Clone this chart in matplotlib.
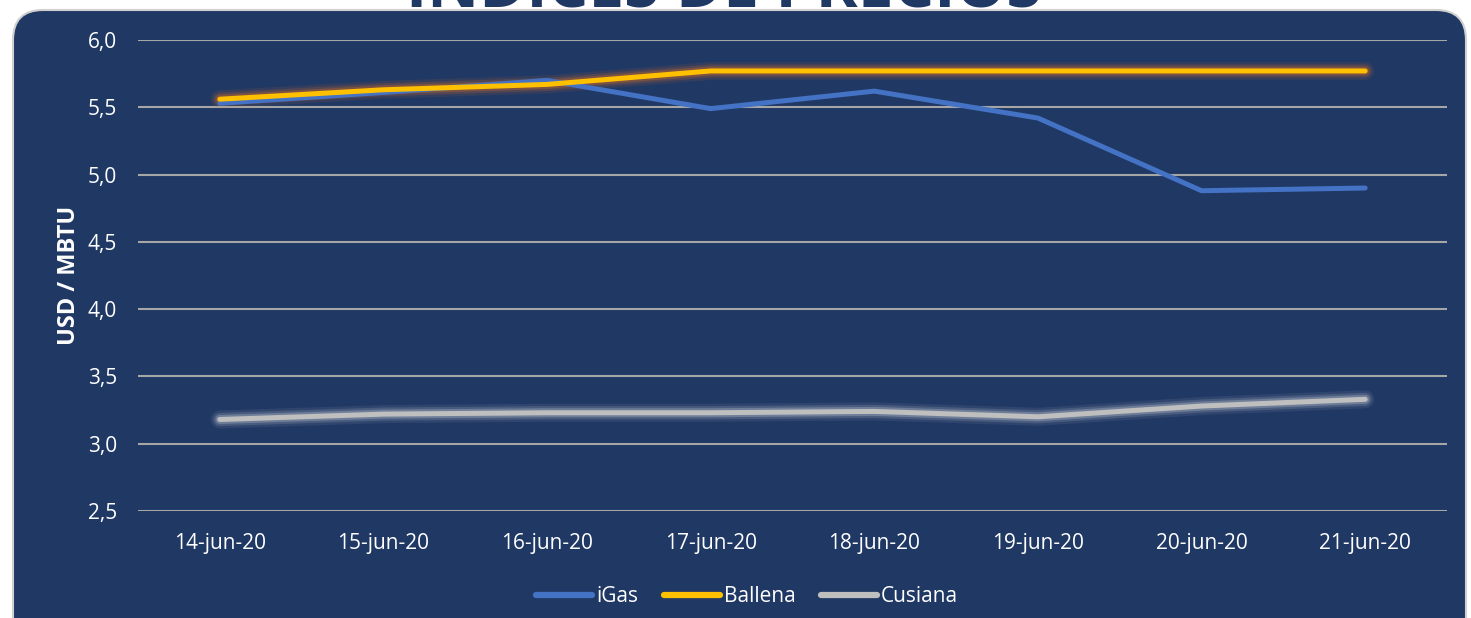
import matplotlib.pyplot as plt
from matplotlib.patches import FancyBboxPatch

# Data
fechas = ['14-jun-20', '15-jun-20', '16-jun-20', '17-jun-20',
          '18-jun-20', '19-jun-20', '20-jun-20', '21-jun-20']
igas = [5.53, 5.61, 5.70, 5.49, 5.62, 5.42, 4.88, 4.90]
ballena = [5.56, 5.63, 5.67, 5.77, 5.77, 5.77, 5.77, 5.77]
cusiana = [3.18, 3.22, 3.23, 3.23, 3.24, 3.20, 3.28, 3.33]
yticks = [2.5, 3.0, 3.5, 4.0, 4.5, 5.0, 5.5, 6.0]

navy = '#203864'
plt.rcParams['font.family'] = ['Open Sans', 'DejaVu Sans']

fig = plt.figure(figsize=(14.71, 6.18), dpi=100)
fig.patch.set_facecolor('white')

# rounded dark panel
box = FancyBboxPatch((0.13, -0.3), 14.53, 6.38,
                     boxstyle='round,pad=0,rounding_size=0.3',
                     transform=fig.dpi_scale_trans, facecolor=navy,
                     edgecolor='#D0D0D0', linewidth=1.5, zorder=-10)
fig.patches.append(box)

# title, cut off by the top edge
fig.text(0.492, 1 - 7 / 618, 'ÍNDICES DE PRECIOS', ha='center',
         va='baseline', fontsize=46, fontweight='bold', color=navy,
         zorder=5)

ax = fig.add_axes([138 / 1471, 107 / 618, 1309 / 1471, 471 / 618])
ax.set_facecolor('none')
x = range(len(fechas))

# glow under lines
for w, a in [(13, 0.10), (9.5, 0.18), (6.5, 0.30)]:
    ax.plot(x, ballena, color='#E07020', lw=w, alpha=a,
            solid_capstyle='round', zorder=2)
    ax.plot(x, cusiana, color='#E8E8E8', lw=w, alpha=a * 0.8,
            solid_capstyle='round', zorder=2)

ax.plot(x, igas, color='#4472C4', lw=3.6, solid_capstyle='round',
        solid_joinstyle='miter', label='iGas', zorder=3)
ax.plot(x, ballena, color='#FFC000', lw=3.6, solid_capstyle='round',
        label='Ballena', zorder=4)
ax.plot(x, cusiana, color='#BFBFBF', lw=3.6, solid_capstyle='round',
        label='Cusiana', zorder=3)

ax.set_xlim(-0.5, len(fechas) - 0.5)
ax.set_ylim(2.5, 6.0)
ax.set_yticks(yticks)
ax.set_yticklabels([f'{v:.1f}'.replace('.', ',') for v in yticks])
ax.set_xticks(list(x))
ax.set_xticklabels(fechas)
ax.tick_params(colors='white', labelsize=15, length=0)
ax.tick_params(axis='y', pad=15)
ax.tick_params(axis='x', pad=16)
for v in yticks:
    ax.axhline(v, color='#A6A6A6', lw=1.5, zorder=1)
for s in ax.spines.values():
    s.set_visible(False)

ax.set_ylabel('USD / MBTU', color='white', fontsize=17,
              fontweight='bold', labelpad=5)

leg = fig.legend(loc='center', bbox_to_anchor=(0.508, 0.035), ncol=3,
                 frameon=False, fontsize=15, handlelength=2.7,
                 handletextpad=0.2, columnspacing=1.2)
for line in leg.get_lines():
    line.set_linewidth(4.5)
for t in leg.get_texts():
    t.set_color('white')

fig.savefig('out.png', dpi=100, facecolor='white')
